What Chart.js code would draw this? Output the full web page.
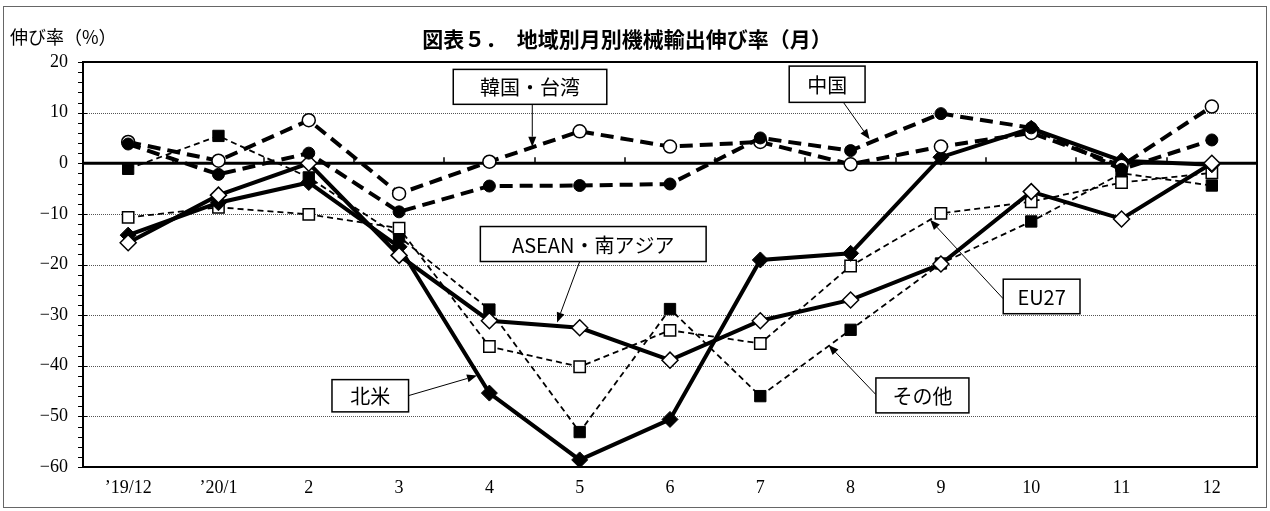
<!DOCTYPE html>
<html><head><meta charset="utf-8">
<script src="https://cdn.jsdelivr.net/npm/chart.js@4.4.1/dist/chart.umd.min.js"></script>
<style>html,body{margin:0;padding:0;background:#fff;}#wrap{width:1270px;height:511px;position:relative;}</style>
</head><body><div id="wrap"><canvas id="c" width="1270" height="511"></canvas></div>
<script>
const categories = ['\u201919/12','\u201920/1','2','3','4','5','6','7','8','9','10','11','12'];
const yTicks = [-60,-50,-40,-30,-20,-10,0,10,20];
const china        = [3.8, -2.2, 2.0, -9.6, -4.5, -4.4, -4.1, 5.0, 2.5, 9.8, 7.0, -1.2, 4.6];
const koreaTaiwan  = [4.2, 0.5, 8.5, -6.0, 0.3, 6.3, 3.3, 4.2, -0.2, 3.3, 6.0, -0.5, 11.2];
const aseanSAsia   = [-15.7, -6.3, 0.0, -18.2, -31.1, -32.5, -38.9, -31.1, -27.0, -19.9, -5.6, -11.0, 0.0];
const northAmerica = [-14.2, -7.8, -3.8, -16.5, -45.4, -58.6, -50.6, -19.1, -17.8, 1.2, 6.9, 0.5, -0.3];
const eu27         = [-10.7, -8.7, -10.1, -12.8, -36.2, -40.2, -33.0, -35.6, -20.3, -9.9, -7.6, -3.8, -1.9];
const others       = [-1.1, 5.4, -2.8, -14.5, -28.9, -53.1, -28.8, -46.0, -32.9, -19.8, -11.5, -2.0, -4.4];

const titleText = '図表５．　地域別月別機械輸出伸び率（月）';
const yTitleText = '伸び率（%）';
// callouts in data coordinates: [categoryIndex, value]
const callouts = [
  {text:'韓国・台湾', box:[3.60,18.54,5.30,11.64], from:[4.475,11.64], to:[4.475,3.27]},
  {text:'中国', box:[7.32,19.19,8.16,12.03], from:[7.92,12.03], to:[8.21,4.73]},
  {text:'ASEAN・南アジア', box:[3.90,-12.5,6.40,-19.41], from:[5.0,-19.41], to:[4.75,-31.44]},
  {text:'北米', box:[2.257,-42.74,3.105,-49.11], from:[3.105,-45.9], to:[3.863,-41.95]},
  {text:'EU27', box:[9.69,-22.9,10.54,-29.72], from:[9.69,-26.77], to:[8.88,-11.18]},
  {text:'その他', box:[8.28,-42.41,9.31,-49.31], from:[8.28,-45.7], to:[7.756,-35.9]}
];

const SANS = '"Noto Sans CJK JP","Noto Sans",sans-serif';
const SERIF = '"Liberation Serif","DejaVu Serif",serif';

const decor = {
  id:'decor',
  beforeDraw(chart){
    const ctx = chart.ctx;
    ctx.save(); ctx.fillStyle='#fff'; ctx.fillRect(0,0,chart.width,chart.height); ctx.restore();
  },
  beforeDatasetsDraw(chart){
    const {ctx, chartArea:a, scales:{x,y}} = chart;
    ctx.save();
    ctx.strokeStyle='#555'; ctx.lineWidth=1; ctx.setLineDash([1,1]);
    yTicks.forEach(v=>{
      if(v===0||v===yTicks[0]||v===yTicks[yTicks.length-1]) return;
      const py=Math.round(y.getPixelForValue(v))+0.5;
      ctx.beginPath(); ctx.moveTo(a.left,py); ctx.lineTo(a.right,py); ctx.stroke();
    });
    ctx.setLineDash([]);
    ctx.strokeStyle='#000'; ctx.lineWidth=2;
    ctx.strokeRect(a.left,a.top,a.right-a.left,a.bottom-a.top);
    ctx.lineWidth=1;
    for(let v=yTicks[0]; v<=yTicks[yTicks.length-1]; v+=2){
      const py=Math.round(y.getPixelForValue(v))+0.5;
      const major = v%10===0;
      ctx.beginPath(); ctx.moveTo(a.left-5,py); ctx.lineTo(major? a.left+4 : a.left,py); ctx.stroke();
    }
    const y0=y.getPixelForValue(0);
    ctx.lineWidth=3;
    ctx.beginPath(); ctx.moveTo(a.left,y0); ctx.lineTo(a.right,y0); ctx.stroke();
    ctx.lineWidth=1.5;
    for(let i=0;i<categories.length-1;i++){
      const px=Math.round((x.getPixelForValue(i)+x.getPixelForValue(i+1))/2);
      ctx.beginPath(); ctx.moveTo(px,y0); ctx.lineTo(px,y0-6); ctx.stroke();
    }
    ctx.restore();
  },
  afterDatasetsDraw(chart){
    const {ctx, scales:{x,y}} = chart;
    ctx.save();
    const P = p=>[x.getPixelForValue(p[0]), y.getPixelForValue(p[1])];
    callouts.forEach(c=>{
      const [fx,fy]=P(c.from), [tx,ty]=P(c.to);
      ctx.strokeStyle='#000'; ctx.fillStyle='#000'; ctx.lineWidth=1;
      const ang=Math.atan2(ty-fy,tx-fx), L=10, W=4;
      const bx=tx-Math.cos(ang)*L, by=ty-Math.sin(ang)*L;
      ctx.beginPath(); ctx.moveTo(fx,fy); ctx.lineTo(bx,by); ctx.stroke();
      ctx.beginPath(); ctx.moveTo(tx,ty);
      ctx.lineTo(bx+Math.sin(ang)*W, by-Math.cos(ang)*W);
      ctx.lineTo(bx-Math.sin(ang)*W, by+Math.cos(ang)*W);
      ctx.closePath(); ctx.fill();
      const [x1,y1]=P([c.box[0],c.box[1]]), [x2,y2]=P([c.box[2],c.box[3]]);
      ctx.fillStyle='#fff'; ctx.fillRect(x1,y1,x2-x1,y2-y1);
      ctx.lineWidth=1.5; ctx.strokeRect(x1,y1,x2-x1,y2-y1);
      ctx.fillStyle='#000'; ctx.font='20px '+SANS; ctx.textAlign='center'; ctx.textBaseline='middle';
      ctx.fillText(c.text,(x1+x2)/2,(y1+y2)/2+1);
    });
    ctx.fillStyle='#000'; ctx.textBaseline='middle';
    ctx.font='bold 21px '+SANS; ctx.textAlign='center';
    ctx.fillText(titleText, 627, 39);
    ctx.font='18px '+SANS; ctx.textAlign='left';
    ctx.fillText(yTitleText, 10, 37);
    ctx.strokeStyle='#666'; ctx.lineWidth=1;
    ctx.strokeRect(3.5,6.5,1263,501);
    ctx.restore();
  }
};

const thickDash=[13,7], thinDash=[6,4];
const datasets = [
  {label:'中国', data:china, borderColor:'#000', borderWidth:4, borderDash:thickDash,
   pointStyle:'circle', pointRadius:6, pointBackgroundColor:'#000', pointBorderColor:'#000', pointBorderWidth:1},
  {label:'韓国・台湾', data:koreaTaiwan, borderColor:'#000', borderWidth:4, borderDash:thickDash,
   pointStyle:'circle', pointRadius:6.5, pointBackgroundColor:'#fff', pointBorderColor:'#000', pointBorderWidth:1.5},
  {label:'ASEAN・南アジア', data:aseanSAsia, borderColor:'#000', borderWidth:4,
   pointStyle:'rectRot', pointRadius:8, pointBackgroundColor:'#fff', pointBorderColor:'#000', pointBorderWidth:1.5},
  {label:'北米', data:northAmerica, borderColor:'#000', borderWidth:4,
   pointStyle:'rectRot', pointRadius:8, pointBackgroundColor:'#000', pointBorderColor:'#000', pointBorderWidth:1},
  {label:'EU27', data:eu27, borderColor:'#000', borderWidth:1.8, borderDash:thinDash,
   pointStyle:'rect', pointRadius:8, pointBackgroundColor:'#fff', pointBorderColor:'#000', pointBorderWidth:1.5},
  {label:'その他', data:others, borderColor:'#000', borderWidth:1.8, borderDash:thinDash,
   pointStyle:'rect', pointRadius:8, pointBackgroundColor:'#000', pointBorderColor:'#000', pointBorderWidth:1}
];
datasets.forEach(d=>{d.fill=false; d.tension=0; d.pointHoverRadius=d.pointRadius;});

new Chart(document.getElementById('c'), {
  type:'line',
  data:{labels:categories, datasets},
  options:{
    responsive:false, animation:false, devicePixelRatio:1,
    layout:{padding:{left:0,right:13,top:62,bottom:0}},
    plugins:{legend:{display:false}, title:{display:false}, tooltip:{enabled:false}},
    scales:{
      x:{type:'category', offset:true,
         grid:{display:false, drawTicks:false}, border:{display:false},
         ticks:{color:'#000', font:{family:SERIF, size:18}, padding:10, maxRotation:0, autoSkip:false},
         afterFit(s){ s.height=44; }},
      y:{min:-60, max:20,
         afterBuildTicks(s){ s.ticks = yTicks.map(v=>({value:v})); },
         grid:{display:false, drawTicks:false}, border:{display:false},
         ticks:{color:'#000', font:{family:SERIF, size:18}, padding:15,
                callback:v=> (v<0 ? '\u2212'+Math.abs(v) : String(v))},
         afterFit(s){ s.width=83; }}
    }
  },
  plugins:[decor]
});
</script></body></html>
